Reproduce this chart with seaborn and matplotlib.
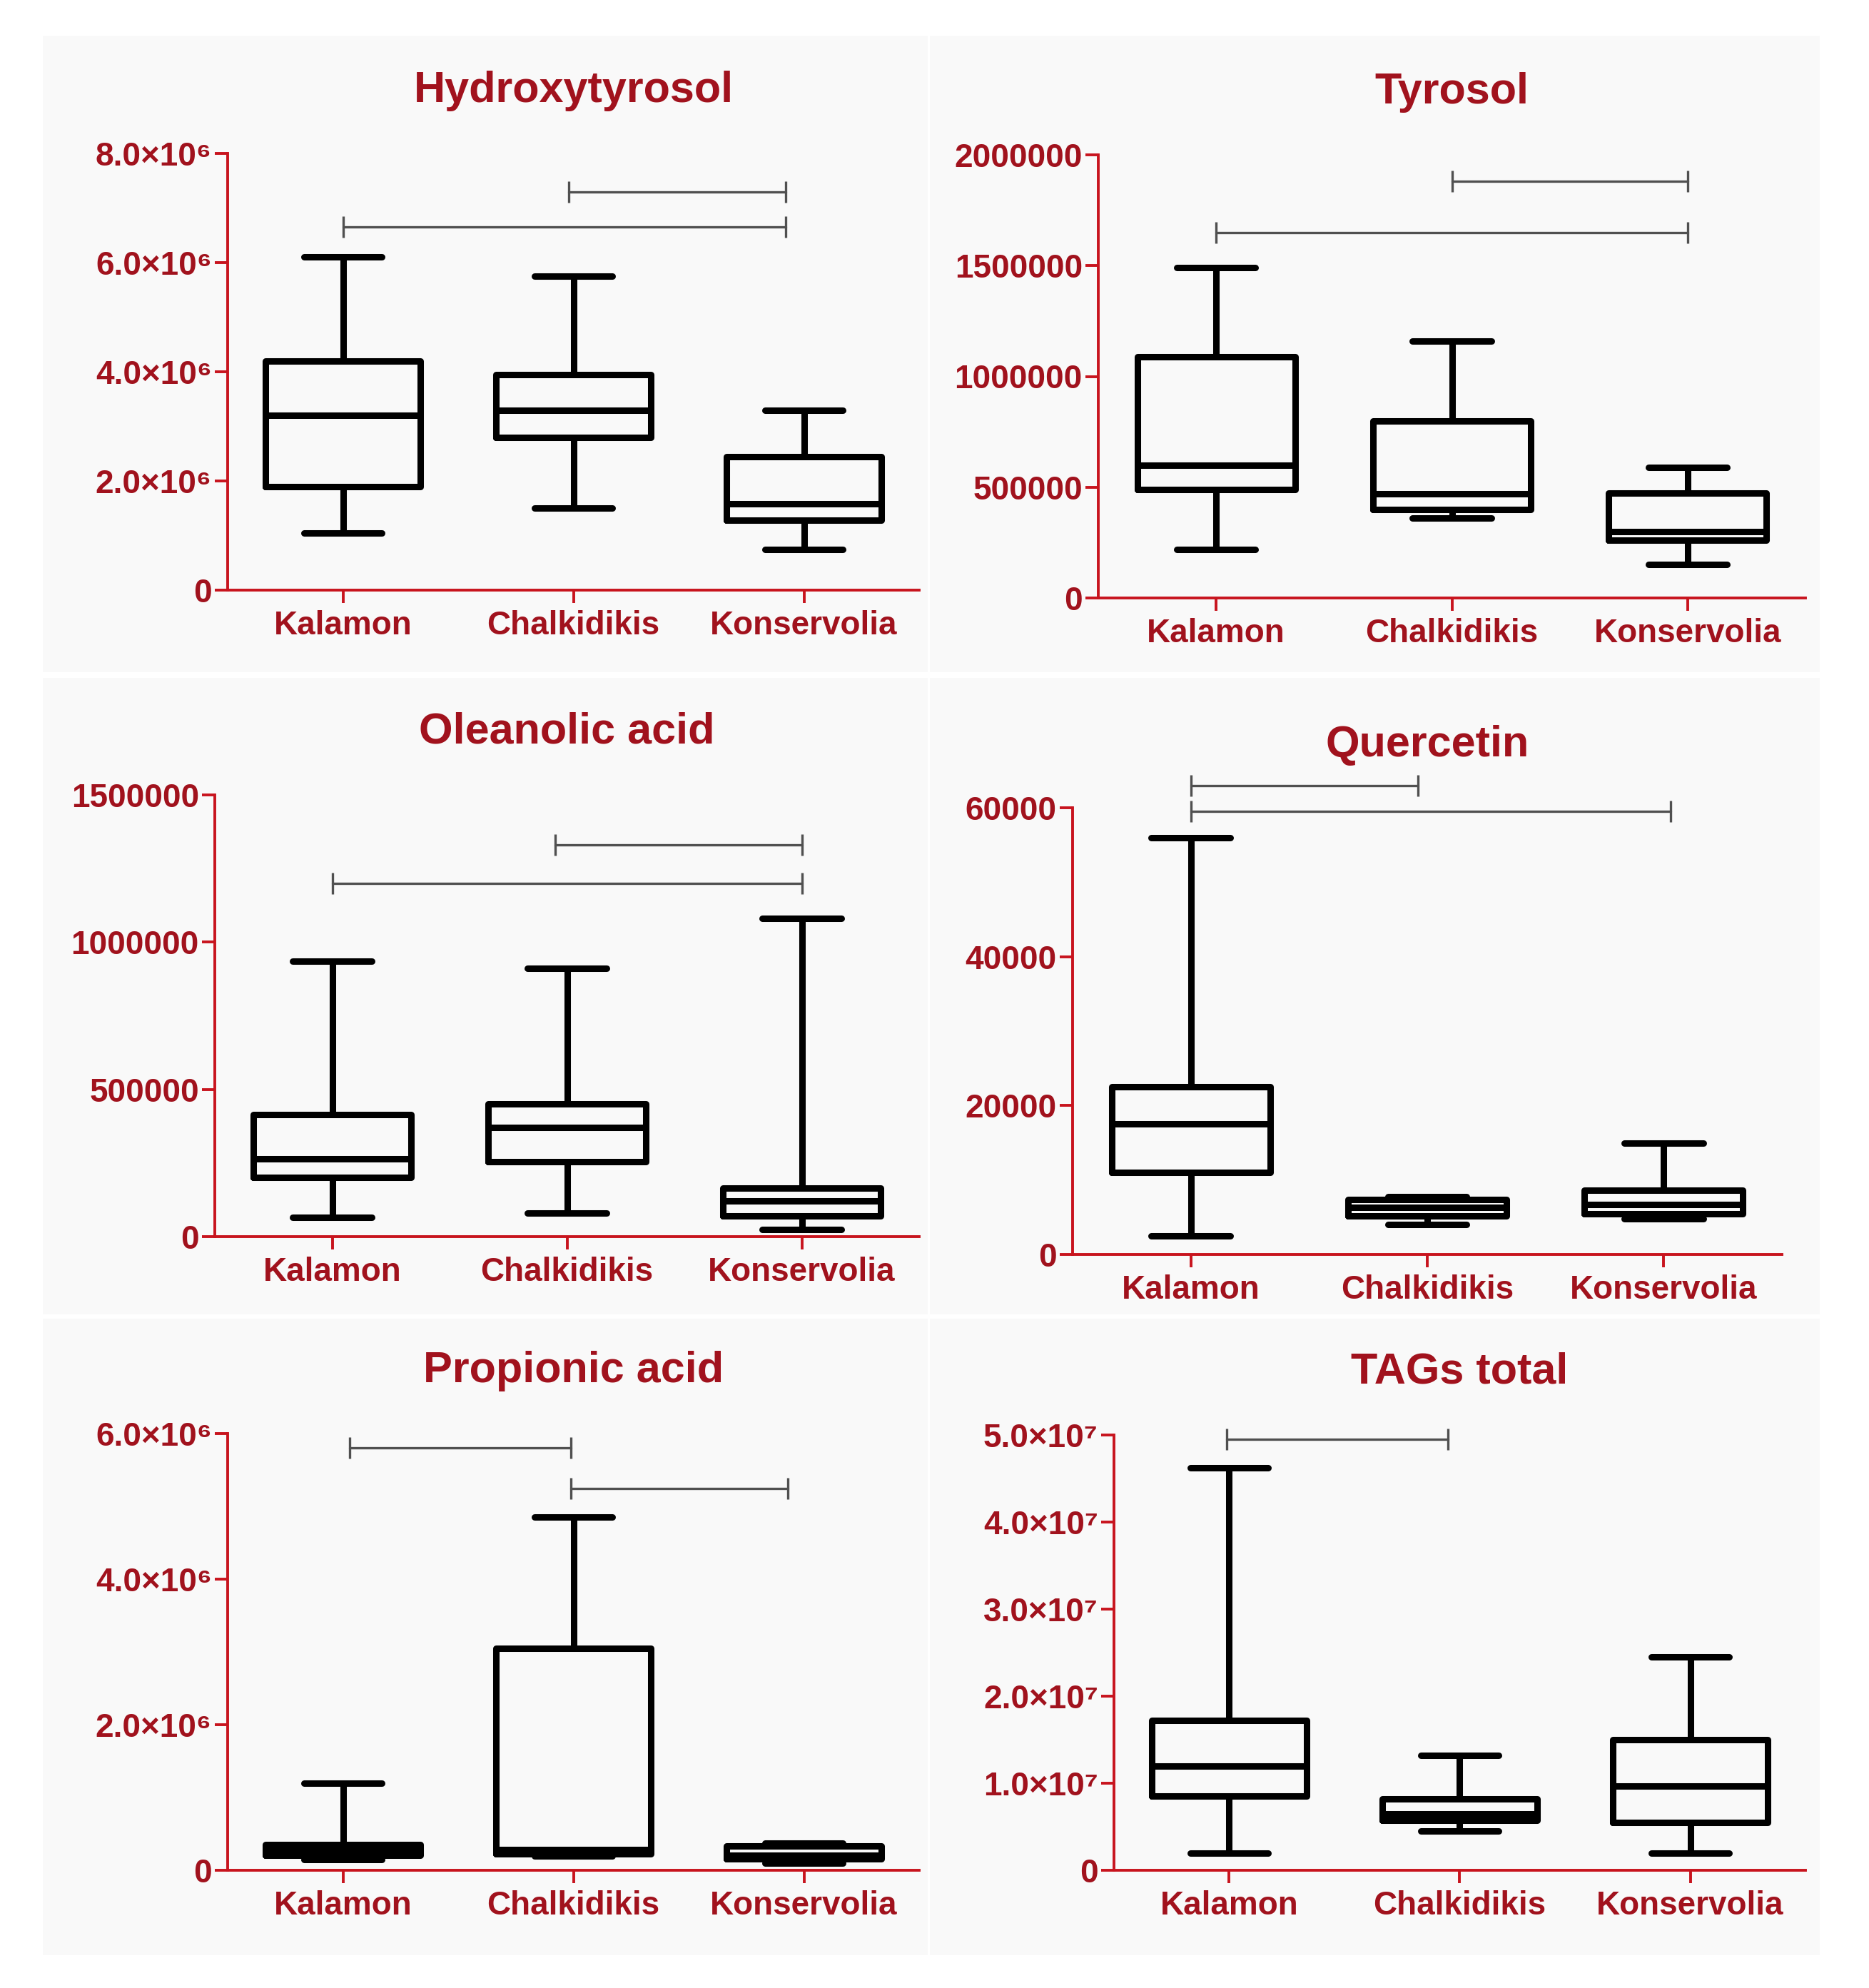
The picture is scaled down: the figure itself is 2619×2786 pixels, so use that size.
import matplotlib
matplotlib.use("Agg")
import matplotlib.pyplot as plt
import pandas as pd
import seaborn as sns
from matplotlib.patches import Rectangle

VARIETIES = ["Kalamon", "Chalkidikis", "Konservolia"]

# five-number summaries per variety: min, Q1, median, Q3, max
HYDROXYTYROSOL = [
    [1.05e6, 1.90e6, 3.20e6, 4.20e6, 6.10e6],
    [1.50e6, 2.80e6, 3.30e6, 3.95e6, 5.75e6],
    [0.75e6, 1.28e6, 1.58e6, 2.45e6, 3.30e6],
]
TYROSOL = [
    [220000, 490000, 600000, 1090000, 1490000],
    [360000, 400000, 470000, 800000, 1160000],
    [150000, 260000, 300000, 475000, 590000],
]
OLEANOLIC = [
    [65000, 200000, 265000, 415000, 935000],
    [80000, 255000, 370000, 450000, 910000],
    [25000, 70000, 120000, 165000, 1080000],
]
QUERCETIN = [
    [2500, 11000, 17500, 22500, 56000],
    [4000, 5200, 6300, 7400, 7800],
    [4800, 5500, 6700, 8600, 15000],
]
PROPIONIC = [
    [150000, 210000, 260000, 350000, 1200000],
    [200000, 230000, 280000, 3050000, 4850000],
    [100000, 160000, 210000, 330000, 370000],
]
TAGS = [
    [0.20e7, 0.85e7, 1.20e7, 1.72e7, 4.62e7],
    [0.45e7, 0.57e7, 0.65e7, 0.82e7, 1.32e7],
    [0.20e7, 0.55e7, 0.97e7, 1.50e7, 2.45e7],
]

# significance brackets: (start position, end position, height)
HYDROXYTYROSOL_PAIRS = [(0.98, 1.92, 7.3e6), (0.0, 1.92, 6.65e6)]
TYROSOL_PAIRS = [(1.0, 2.0, 1880000), (0.0, 2.0, 1650000)]
OLEANOLIC_PAIRS = [(0.95, 2.0, 1330000), (0.0, 2.0, 1200000)]
QUERCETIN_PAIRS = [(0.0, 0.96, 63000), (0.0, 2.03, 59500)]
PROPIONIC_PAIRS = [(0.03, 0.99, 5.8e6), (0.99, 1.93, 5.25e6)]
TAGS_PAIRS = [(-0.01, 0.95, 4.95e7)]

HYDROXYTYROSOL_TICKS = [0, 2e6, 4e6, 6e6, 8e6]
HYDROXYTYROSOL_LABELS = ["0", "2.0×10⁶", "4.0×10⁶", "6.0×10⁶", "8.0×10⁶"]
TYROSOL_TICKS = [0, 500000, 1000000, 1500000, 2000000]
TYROSOL_LABELS = ["0", "500000", "1000000", "1500000", "2000000"]
OLEANOLIC_TICKS = [0, 500000, 1000000, 1500000]
OLEANOLIC_LABELS = ["0", "500000", "1000000", "1500000"]
QUERCETIN_TICKS = [0, 20000, 40000, 60000]
QUERCETIN_LABELS = ["0", "20000", "40000", "60000"]
PROPIONIC_TICKS = [0, 2e6, 4e6, 6e6]
PROPIONIC_LABELS = ["0", "2.0×10⁶", "4.0×10⁶", "6.0×10⁶"]
TAGS_TICKS = [0, 1e7, 2e7, 3e7, 4e7, 5e7]
TAGS_LABELS = ["0", "1.0×10⁷", "2.0×10⁷", "3.0×10⁷", "4.0×10⁷", "5.0×10⁷"]

AXIS_RED = "#c8141e"
TEXT_RED = "#a1121d"
W, H = 2619, 2786


def _long(summary):
    rows = []
    for variety, values in zip(VARIETIES, summary):
        for v in values:
            rows.append({"variety": variety, "value": v})
    return pd.DataFrame(rows)


def _rect(left, top, right, bottom):
    # pixel box -> figure fraction [l, b, w, h]
    return [left / W, 1 - bottom / H, (right - left) / W, (bottom - top) / H]


sns.set_theme(style="ticks")
plt.rcParams["font.family"] = ["Liberation Sans", "DejaVu Sans"]

fig = plt.figure(figsize=(W / 100, H / 100), dpi=100)
fig.patch.set_facecolor("white")

# light grey panel backgrounds, kept behind the axes
for left, top, right, bottom in [
    (60, 50, 1300, 942), (1303, 50, 2550, 942),
    (60, 950, 1300, 1842), (1303, 950, 2550, 1842),
    (60, 1848, 1300, 2740), (1303, 1848, 2550, 2740),
]:
    l, b, w, h = _rect(left, top, right, bottom)
    fig.patches.append(Rectangle((l, b), w, h, transform=fig.transFigure,
                                 facecolor="#f9f9f9", edgecolor="none", zorder=-5))

panels = [
    ("Hydroxytyrosol", HYDROXYTYROSOL, HYDROXYTYROSOL_TICKS, HYDROXYTYROSOL_LABELS,
     HYDROXYTYROSOL_PAIRS, (319, 215, 1288, 827)),
    ("Tyrosol", TYROSOL, TYROSOL_TICKS, TYROSOL_LABELS,
     TYROSOL_PAIRS, (1539, 217, 2530, 838)),
    ("Oleanolic acid", OLEANOLIC, OLEANOLIC_TICKS, OLEANOLIC_LABELS,
     OLEANOLIC_PAIRS, (301, 1114, 1288, 1733)),
    ("Quercetin", QUERCETIN, QUERCETIN_TICKS, QUERCETIN_LABELS,
     QUERCETIN_PAIRS, (1503, 1132, 2497, 1758)),
    ("Propionic acid", PROPIONIC, PROPIONIC_TICKS, PROPIONIC_LABELS,
     PROPIONIC_PAIRS, (319, 2009, 1288, 2621)),
    ("TAGs total", TAGS, TAGS_TICKS, TAGS_LABELS,
     TAGS_PAIRS, (1561, 2011, 2530, 2621)),
]

for title, summary, ticks, labels, pairs, box in panels:
    ax = fig.add_axes(_rect(*box))
    ax.set_facecolor("none")
    sns.boxplot(
        data=_long(summary),
        x="variety",
        y="value",
        order=VARIETIES,
        ax=ax,
        whis=(0, 100),
        width=0.67,
        fill=False,
        color="black",
        linewidth=6.5,
        showfliers=False,
    )
    for x0, x1, y in pairs:
        ax.plot([x0, x1], [y, y], color="#505050", lw=2.4, marker="|",
                markersize=22, markeredgewidth=2.4, clip_on=False, zorder=3)

    ax.set_xlim(-0.5, 2.5)
    ax.set_ylim(0, ticks[-1])
    ax.set_yticks(ticks, labels)
    ax.set_xlabel("")
    ax.set_ylabel("")
    ax.set_title(title, pad=52, fontsize=44, fontweight="bold", color=TEXT_RED)

    sns.despine(ax=ax)
    for side in ("left", "bottom"):
        ax.spines[side].set_color(AXIS_RED)
        ax.spines[side].set_linewidth(2.8)
    ax.tick_params(axis="both", colors=AXIS_RED, width=2.8, length=13,
                   direction="out", labelcolor=TEXT_RED, labelsize=33)
    ax.tick_params(axis="y", pad=3)
    ax.tick_params(axis="x", pad=7)
    for label in ax.get_xticklabels() + ax.get_yticklabels():
        label.set_fontweight("bold")

fig.savefig("out.png", dpi=100, facecolor="white")
